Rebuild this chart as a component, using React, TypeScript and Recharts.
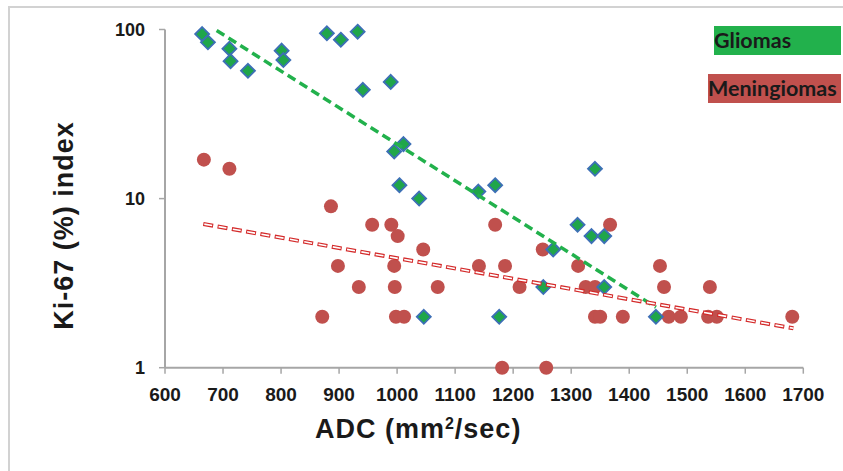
import React from 'react';
import { ScatterChart, Scatter, XAxis, YAxis, Legend } from 'recharts';

// x axis: ADC (mm2/sec), y axis: Ki-67 index (log scale)
const X_TICKS = [600, 700, 800, 900, 1000, 1100, 1200, 1300, 1400, 1500, 1600, 1700];
const Y_TICKS = [1, 10, 100];

const gliomaAdc = [664, 674, 711, 713, 743, 801, 804, 879, 903, 932, 941, 989, 1011, 995, 1004, 1038, 1046, 1140, 1169, 1176, 1269, 1252, 1311, 1341, 1335, 1357, 1357, 1446];
const gliomaKi67 = [94, 84, 77, 65, 57, 75, 66, 95, 87, 97, 44, 49, 21, 19, 12, 10, 2, 11, 12, 2, 5, 3, 7, 15, 6, 6, 3, 2];

const meningiomaAdc = [667, 711, 886, 957, 990, 1001, 1045, 898, 995, 1169, 1141, 934, 996, 1070, 871, 998, 1012, 1181, 1186, 1211, 1251, 1312, 1325, 1341, 1367, 1341, 1350, 1389, 1453, 1460, 1468, 1489, 1539, 1536, 1551, 1681, 1257];
const meningiomaKi67 = [17, 15, 9, 7, 7, 6, 5, 4, 4, 7, 4, 3, 3, 3, 2, 2, 2, 1, 4, 3, 5, 4, 3, 3, 7, 2, 2, 2, 4, 3, 2, 2, 3, 2, 2, 2, 1];

// exponential trendlines, end points
const gliomaTrendAdc = [689, 1446];
const gliomaTrendKi67 = [98.6, 2.28];
const meningiomaTrendAdc = [666, 1683];
const meningiomaTrendKi67 = [7.08, 1.71];

const LEGEND_ORDER = ['Gliomas', 'Meningiomas'];

const GREEN = '#22b14c';
const RED = '#c0504d';
const AXIS = '#a6a6a6';
const TEXT = '#1a1a1a';

const toPoints = (xs: number[], ys: number[]) => xs.map((x, i) => ({ x, y: ys[i] }));

const gliomas = toPoints(gliomaAdc, gliomaKi67);
const meningiomas = toPoints(meningiomaAdc, meningiomaKi67);
const gliomaTrend = toPoints(gliomaTrendAdc, gliomaTrendKi67);
const meningiomaTrend = toPoints(meningiomaTrendAdc, meningiomaTrendKi67);

function Diamond(props: any) {
  const { cx, cy } = props;
  const r = 7;
  return (
    <polygon
      points={`${cx},${cy - r} ${cx + r},${cy} ${cx},${cy + r} ${cx - r},${cy}`}
      fill="#1fa64a"
      stroke="#3d6fb6"
      strokeWidth={1.8}
    />
  );
}

function Dot(props: any) {
  const { cx, cy } = props;
  return <circle cx={cx} cy={cy} r={7} fill={RED} />;
}

const NoShape = () => <g />;

function YTitle(props: any) {
  const { viewBox } = props;
  const x = viewBox.x + 64;
  const y = viewBox.y + viewBox.height / 2 + 27;
  return (
    <text
      x={x}
      y={y}
      transform={`rotate(-90, ${x}, ${y})`}
      textAnchor="middle"
      fill={TEXT}
      fontSize={27}
      fontWeight={700}
      letterSpacing={1}
      fontFamily="'Liberation Sans', Arial, sans-serif"
    >
      Ki-67 (%) index
    </text>
  );
}

function XTitle(props: any) {
  const { viewBox } = props;
  const x = viewBox.x + viewBox.width / 2 - 66;
  const y = viewBox.y + 70.5;
  return (
    <text
      x={x}
      y={y}
      textAnchor="middle"
      fill={TEXT}
      fontSize={27}
      fontWeight={700}
      letterSpacing={1}
      fontFamily="'Liberation Sans', Arial, sans-serif"
    >
      ADC (mm
      <tspan dy={-9} fontSize={16}>2</tspan>
      <tspan dy={9}>/sec)</tspan>
    </text>
  );
}

const LEGEND_WIDTH: Record<string, number> = { Gliomas: 127, Meningiomas: 133 };

function LegendBoxes({ payload }: any) {
  const items = (payload || [])
    .filter((p: any) => LEGEND_ORDER.includes(p.value))
    .sort((a: any, b: any) => LEGEND_ORDER.indexOf(a.value) - LEGEND_ORDER.indexOf(b.value));
  return (
    <div style={{ display: 'flex', flexDirection: 'column', alignItems: 'flex-end', gap: 19 }}>
      {items.map((item: any) => (
        <div
          key={item.value}
          style={{
            background: item.color,
            width: LEGEND_WIDTH[item.value],
            height: 29,
            lineHeight: '29px',
            fontFamily: 'Lato, sans-serif',
            fontWeight: 700,
            fontSize: 21.5,
            color: TEXT,
            whiteSpace: 'nowrap',
            overflow: 'hidden',
            textAlign: 'left',
          }}
        >
          {item.value}
        </div>
      ))}
    </div>
  );
}

export default function App() {
  return (
    <div style={{ position: 'absolute', left: 0, top: 0, width: 843, height: 471, background: '#fff' }}>
      <div
        style={{
          position: 'absolute',
          left: 8,
          top: 6,
          right: 0,
          bottom: 0,
          borderLeft: '2px solid #d2d2d2',
          borderTop: '2px solid #d2d2d2',
        }}
      />
      <ScatterChart
        width={843}
        height={471}
        margin={{ top: 29.5, right: 39.7, bottom: 43.3, left: 9 }}
        style={{ position: 'absolute', left: 0, top: 0 }}
      >
        <XAxis
          type="number"
          dataKey="x"
          domain={[600, 1700]}
          ticks={X_TICKS}
          interval={0}
          height={60}
          tickSize={6}
          tickMargin={14}
          axisLine={{ stroke: AXIS, strokeWidth: 2 }}
          tickLine={{ stroke: AXIS, strokeWidth: 1.5 }}
          tick={{
            fill: TEXT,
            fontSize: 19,
            fontWeight: 700,
            fontFamily: "'Liberation Sans Narrow', 'Arial Narrow', 'Liberation Sans', Arial, sans-serif",
          }}
          label={XTitle}
        />
        <YAxis
          type="number"
          dataKey="y"
          scale="log"
          domain={[1, 100]}
          ticks={Y_TICKS}
          interval={0}
          width={156}
          tickSize={6}
          tickMargin={14}
          axisLine={{ stroke: AXIS, strokeWidth: 2 }}
          tickLine={{ stroke: AXIS, strokeWidth: 1.5 }}
          tick={{ fill: TEXT, fontSize: 18, fontWeight: 700, fontFamily: "'Liberation Sans', Arial, sans-serif" }}
          label={YTitle}
        />
        <Legend
          layout="vertical"
          align="center"
          verticalAlign="middle"
          content={LegendBoxes}
          wrapperStyle={{ top: 26, left: 700, width: 141 }}
        />
        <Scatter name="Meningiomas" data={meningiomas} fill={RED} shape={Dot} isAnimationActive={false} />
        <Scatter name="Gliomas" data={gliomas} fill={GREEN} shape={Diamond} isAnimationActive={false} />
        <Scatter
          name="Gliomas trend"
          data={gliomaTrend}
          shape={NoShape}
          legendType="none"
          line={{ stroke: GREEN, strokeWidth: 3.5, strokeDasharray: '9 5' }}
          lineType="joint"
          isAnimationActive={false}
        />
        <Scatter
          name="Meningiomas trend"
          data={meningiomaTrend}
          shape={NoShape}
          legendType="none"
          line={{ stroke: '#d42a2a', strokeWidth: 4, strokeDasharray: '10 4.5' }}
          lineType="joint"
          isAnimationActive={false}
        />
        <Scatter
          name="Meningiomas trend inner"
          data={meningiomaTrend}
          shape={NoShape}
          legendType="none"
          line={{ stroke: '#ffffff', strokeWidth: 1.6, strokeDasharray: '8 6.5', strokeDashoffset: -1 }}
          lineType="joint"
          isAnimationActive={false}
        />
      </ScatterChart>
    </div>
  );
}
